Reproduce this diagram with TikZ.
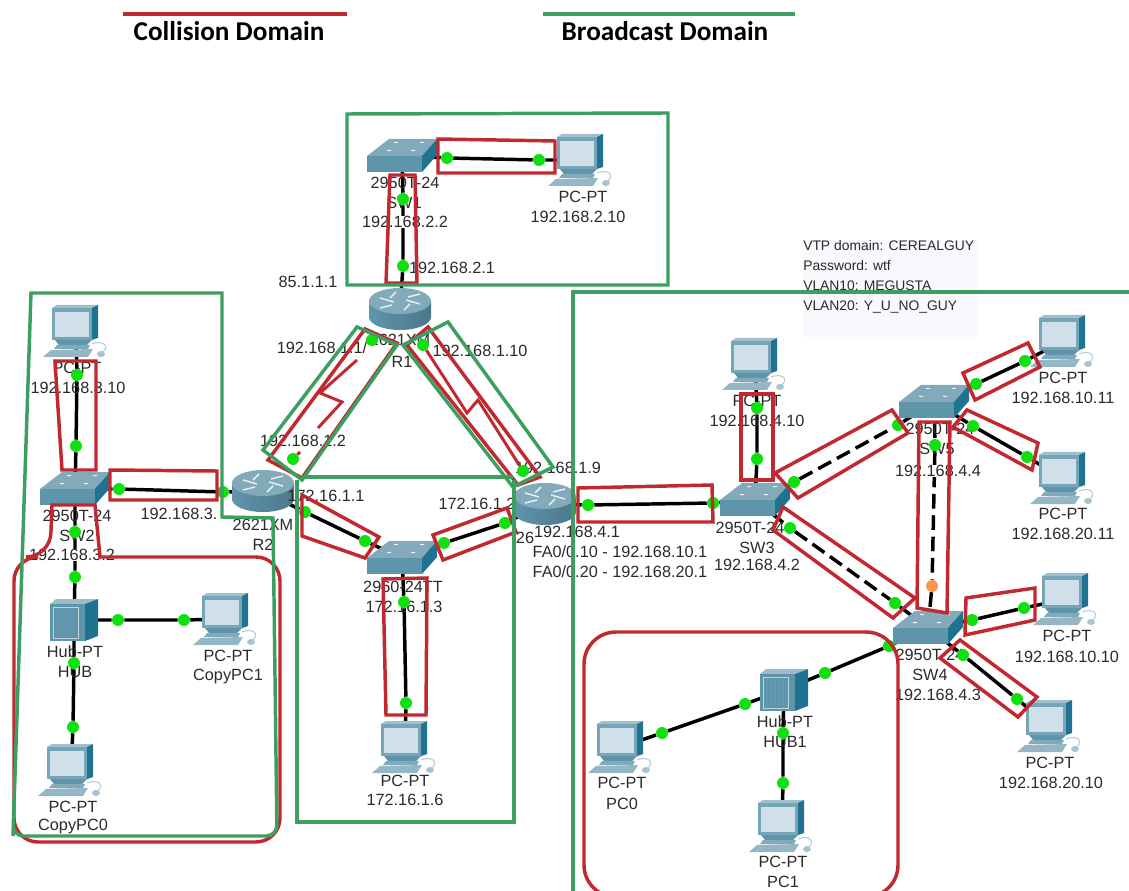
\documentclass[tikz,border=0pt]{standalone}
\usepackage{fontspec}
\setmainfont{Liberation Sans}
\newfontfamily\titlefont{Carlito}
\pgfdeclarelayer{wires}
\pgfdeclarelayer{marks}
\pgfsetlayers{wires,main,marks}
\definecolor{rbox}{HTML}{C1282F}
\definecolor{gbox}{HTML}{3C9F5F}
\definecolor{port}{HTML}{10E010}
\definecolor{tealF}{HTML}{5F95AB}
\definecolor{tealS}{HTML}{1F7390}
\definecolor{tealT}{HTML}{82AABB}
\definecolor{screen}{HTML}{CFE0EA}
\definecolor{txt}{HTML}{2A2A2A}
\definecolor{notebg}{HTML}{F8F9FC}
\tikzset{
  lbl/.style={font=\fontsize{12.2}{14}\selectfont,text=txt,inner sep=0pt},
  lblw/.style={lbl,fill=white},
  vtp/.style={font=\fontsize{10.4}{12}\selectfont,text=txt,inner sep=0pt,anchor=west},
  wire/.style={draw=black,line width=2.6pt},
  dwire/.style={wire,dash pattern=on 11pt off 5pt},
  serial/.style={draw=rbox,line width=2.2pt},
  portdot/.style={circle,fill=port,inner sep=0pt,minimum size=9pt},
  orangedot/.style={portdot,fill=orange!80!red!70!white},
  redbox/.style={draw=rbox,line width=2.6pt,line join=miter},
  greenbox/.style={draw=gbox,line width=2.6pt,line join=miter},
  titlelbl/.style={font=\titlefont\bfseries\fontsize{20.4}{24}\selectfont,text=black,inner sep=0pt}
}
\newcommand{\pcdev}[3]{%
  \coordinate (#1) at (#2,#3);
  \begin{scope}[shift={(#2,#3)}]
    \fill[tealT!75!white] (-24,-23)--(-19,-26)--(22,-26)--(16,-23)--cycle;
    \fill[tealS] (16,-23)--(22,-26)--(22,7)--(16,9)--cycle;
    \fill[tealF!85!white] (-24,-23) rectangle (16,9);
    \fill[screen] (-21,-19) rectangle (13,6);
    \fill[tealF] (-21,9)--(16,9)--(11,14)--(-17,14)--cycle;
    \fill[tealT] (-19,14)--(14,14)--(12,18)--(-22,18)--cycle;
    \fill[tealT!85!white] (-25,19)--(17,18)--(12,26)--(-33,26)--cycle;
    \draw[tealT!60!white,line width=.8pt] (16,13) .. controls (26,9) and (34,14) .. (27,21);
    \fill[tealT!70!white] (25,23) ellipse (4 and 3);
  \end{scope}}
\newcommand{\swdev}[3]{%
  \coordinate (#1) at (#2,#3);
  \begin{scope}[shift={(#2,#3)}]
    \fill[tealT] (-35,0)--(-13,-17)--(35,-17)--(20,0)--cycle;
    \fill[tealF] (-35,0) rectangle (20,16);
    \fill[tealS] (20,0)--(35,-17)--(35,-1)--(20,16)--cycle;
    \fill[white!85!tealT] (-8,-14) rectangle (-4,-13) (18,-14) rectangle (22,-13) (-15,-6) rectangle (-11,-5) (9,-6) rectangle (13,-5);
  \end{scope}}
\newcommand{\rtdev}[3]{%
  \coordinate (#1) at (#2,#3);
  \begin{scope}[shift={(#2,#3)}]
    \path[left color=tealF,middle color=white!80!tealT,right color=tealF!80!black]
      (-31,-8) -- (-31,8) arc[start angle=180,end angle=0,x radius=31,y radius=13] -- (31,-8) -- cycle;
    \fill[tealT] (0,-8) ellipse (31 and 13);
    \draw[white!80!tealT,line width=1.1pt] (-20,-11) -- (-6,-7) (-4,-17) -- (-10,-11) (20,-5) -- (6,-9) (4,1) -- (10,-5) (-20,-1) -- (-8,-4) (20,-15) -- (8,-12);
  \end{scope}}
\newcommand{\hubdev}[3]{%
  \coordinate (#1) at (#2,#3);
  \begin{scope}[shift={(#2,#3)}]
    \fill[tealT!80!white] (-24,-16)--(-18,-21)--(24,-21)--(11,-16)--cycle;
    \fill[tealS] (11,-16)--(24,-21)--(24,16)--(11,21)--cycle;
    \fill[tealF] (-24,-16) rectangle (11,21);
    \draw[tealT!50!white,line width=.7pt] (-21,-13) rectangle (4,18);
    \foreach \k in {-17,-13,-9,-5,-1} \draw[tealS!70!white,line width=.7pt] (\k,-11) -- (\k,16);
  \end{scope}}
\newcommand{\pd}[3]{\node[portdot] (#1) at (#2,#3) {};}
\newcommand{\lb}[4]{\node[lbl] (#1) at (#2,#3) {#4};}
\newcommand{\lbw}[4]{\node[lblw] (#1) at (#2,#3) {#4};}
\begin{document}
\begin{tikzpicture}[x=0.75pt,y=-0.75pt]
\useasboundingbox (0,0) rectangle (1129,891);
% devices
\swdev{swa}{402}{156}
\pcdev{pcb}{581}{160}
\rtdev{ra}{400}{309}
\rtdev{rb}{263}{491}
\rtdev{rc}{545}{504}
\pcdev{pca}{76}{331}
\swdev{swb}{75}{489}
\hubdev{hub}{74}{620}
\pcdev{cpa}{226}{619}
\pcdev{cpb}{71}{770}
\swdev{swt}{402}{558}
\pcdev{pcc}{405}{747}
\swdev{swc}{755}{500}
\pcdev{pcd}{755}{364}
\swdev{swe}{934}{402}
\swdev{swd}{928}{628}
\pcdev{pce}{1063}{341}
\pcdev{pcf}{1063}{478}
\pcdev{pcg}{1066}{599}
\pcdev{pch}{1050}{726}
\hubdev{hua}{784}{690}
\pcdev{pci}{621}{747}
\pcdev{pcj}{782}{826}
% VTP note
\begin{pgfonlayer}{wires}
\fill[notebg] (803,240) rectangle (977,337);
\end{pgfonlayer}
\node[vtp] (vtpa) at (803,246) {VTP domain: CEREALGUY};
\node[vtp] (vtpb) at (803,266) {Password: wtf};
\node[vtp] (vtpc) at (803,286) {VLAN10: MEGUSTA};
\node[vtp] (vtpd) at (803,307) {VLAN20: Y\_U\_NO\_GUY};
% labels
\lb{la}{405}{183}{2950T-24}
\lb{lb}{404}{203}{SW1}
\lbw{lc}{405}{222}{192.168.2.2}
\lb{ld}{452}{268}{192.168.2.1}
\lb{le}{583}{197}{PC-PT}
\lb{lf}{578}{217}{192.168.2.10}
\lb{lg}{308}{282}{85.1.1.1}
\lb{lh}{322}{348}{192.168.1.1/}
\lb{li}{400}{340}{2621XM}
\lb{lj}{402}{362}{R1}
\lb{lk}{480}{351}{192.168.1.10}
\lb{ll}{303}{441}{192.168.1.2}
\lb{lm}{558}{468}{192.168.1.9}
\lb{ln}{77}{368}{PC-PT}
\lb{lo}{78}{388}{192.168.3.10}
\lb{lp}{77}{516}{2950T-24}
\lb{lq}{77}{536}{SW2}
\lbw{lr}{72}{555}{192.168.3.2}
\lb{ls}{179}{514}{192.168.3.}
\lb{lt}{263}{525}{2621XM}
\lb{lu}{263}{545}{R2}
\lb{lv}{75}{652}{Hub-PT}
\lb{lw}{75}{672}{HUB}
\lb{lx}{228}{656}{PC-PT}
\lb{ly}{228}{677}{CopyPC1}
\lb{lz}{73}{807}{PC-PT}
\lb{maa}{73}{827}{CopyPC0}
\lb{mab}{326}{496}{172.16.1.1}
\lb{mac}{477}{504}{172.16.1.2}
\lb{mad}{403}{587}{2960-24TT}
\lb{mae}{404}{607}{172.16.1.3}
\lb{maf}{405}{781}{PC-PT}
\lb{mag}{405}{800}{172.16.1.6}
\lb{mah}{525}{538}{26}
\lbw{mai}{577}{532}{192.168.4.1}
\lb{maj}{620}{552}{FA0/0.10 - 192.168.10.1}
\lb{mak}{620}{572}{FA0/0.20 - 192.168.20.1}
\lb{mal}{750}{528}{2950T-24}
\lb{mam}{757}{548}{SW3}
\lb{man}{757}{565}{192.168.4.2}
\lb{mao}{757}{401}{PC-PT}
\lb{map}{757}{421}{192.168.4.10}
\lb{maq}{940}{429}{2950T-24}
\lb{mar}{937}{449}{SW5}
\lbw{mas}{938}{471}{192.168.4.4}
\lb{mat}{1063}{378}{PC-PT}
\lb{mau}{1063}{398}{192.168.10.11}
\lb{mav}{1063}{514}{PC-PT}
\lb{maw}{1063}{534}{192.168.20.11}
\lb{max}{930}{655}{2950T-24}
\lb{may}{930}{675}{SW4}
\lb{maz}{938}{695}{192.168.4.3}
\lb{nab}{1067}{636}{PC-PT}
\lb{nac}{1067}{657}{192.168.10.10}
\lb{nad}{1050}{763}{PC-PT}
\lb{nae}{1051}{783}{192.168.20.10}
\lb{naf}{785}{722}{Hub-PT}
\lb{nag}{785}{742}{HUB1}
\lb{nah}{622}{783}{PC-PT}
\lb{nai}{622}{804}{PC0}
\lb{naj}{783}{862}{PC-PT}
\lb{nak}{783}{882}{PC1}
% ports
\pd{a1}{447}{158}\pd{a2}{539}{160}
\pd{b1}{403}{199}\pd{b2}{403}{266}
\pd{c1}{372}{340}\pd{c2}{293}{459}
\pd{e1}{423}{345}\pd{e2}{523}{471}
\pd{f1}{77}{375}\pd{f2}{76}{446}
\pd{g1}{119}{489}\pd{g2}{223}{492}
\pd{h1}{75}{532}\pd{h2}{75}{577}
\pd{i1}{118}{620}\pd{i2}{184}{620}
\pd{j1}{74}{663}\pd{j2}{73}{727}
\pd{k1}{305}{512}\pd{k2}{365}{541}
\pd{l1}{444}{543}\pd{l2}{505}{523}
\pd{m1}{404}{602}\pd{m2}{406}{703}
\pd{n1}{588}{505}\pd{n2}{713}{503}
\pd{o1}{757}{408}\pd{o2}{757}{459}
\pd{p1}{794}{482}\pd{p2}{898}{425}
\pd{q1}{790}{528}\pd{q2}{895}{603}
\pd{r1}{935}{445}
\node[orangedot] (r2) at (932,586) {};
\pd{s1}{976}{384}\pd{s2}{1025}{361}
\pd{t1}{973}{426}\pd{t2}{1027}{457}
\pd{u1}{972}{620}\pd{u2}{1024}{608}
\pd{v1}{963}{655}\pd{v2}{1017}{699}
\pd{w1}{889}{646}\pd{w2}{825}{673}
\pd{x1}{745}{704}\pd{x2}{662}{733}
\pd{y1}{783}{733}\pd{y2}{783}{783}
% links
\begin{pgfonlayer}{wires}
\draw[wire] (swa) -- (a1) -- (a2) -- (pcb);
\draw[wire] (swa) -- (b1) -- (b2) -- (ra);
\draw[wire] (pca) -- (f1) -- (f2) -- (swb);
\draw[wire] (swb) -- (g1) -- (g2) -- (rb);
\draw[wire] (swb) -- (h1) -- (h2) -- (hub);
\draw[wire] (hub) -- (i1) -- (i2) -- (cpa);
\draw[wire] (hub) -- (j1) -- (j2) -- (cpb);
\draw[wire] (rb) -- (k1) -- (k2) -- (swt);
\draw[wire] (swt) -- (l1) -- (l2) -- (rc);
\draw[wire] (swt) -- (m1) -- (m2) -- (pcc);
\draw[wire] (rc) -- (n1) -- (n2) -- (swc);
\draw[wire] (swc) -- (o2) -- (o1) -- (pcd);
\draw[dwire] (swc) -- (p1) -- (p2) -- (swe);
\draw[dwire] (swc) -- (q1) -- (q2) -- (swd);
\draw[dwire] (swe) -- (r1) -- (r2) -- (swd);
\draw[wire] (swe) -- (s1) -- (s2) -- (pce);
\draw[wire] (swe) -- (t1) -- (t2) -- (pcf);
\draw[wire] (swd) -- (u1) -- (u2) -- (pcg);
\draw[wire] (swd) -- (v1) -- (v2) -- (pch);
\draw[wire] (swd) -- (w1) -- (w2) -- (hua);
\draw[wire] (hua) -- (x1) -- (x2) -- (pci);
\draw[wire] (hua) -- (y1) -- (y2) -- (pcj);
\end{pgfonlayer}
% domain marks
\begin{pgfonlayer}{marks}
\draw[serial] (357,360) -- (320,393) -- (342,402) -- (318,428);
\draw[serial] (c2) -- (300,452);
\draw[serial] (e1) -- (467,413) -- (478,400) -- (e2);
% collision
\draw[redbox] (438,139) -- (555,141) -- (555,173) -- (438,173) -- cycle;
\draw[redbox] (390,175) -- (415,175) -- (417,283) -- (386,283) -- cycle;
\draw[redbox] (365,329) -- (397,343) -- (302,478) -- (268,460) -- cycle;
\draw[redbox] (407,345) -- (428,327) -- (540,477) -- (518,485) -- cycle;
\draw[redbox] (55,361) -- (96,361) -- (96,470) -- (62,470) -- cycle;
\draw[redbox] (110,470) -- (217,471) -- (217,500) -- (110,500) -- cycle;
\draw[redbox] (100,557) [rounded corners=18] -- (280,557) -- (280,842) -- (14,842) -- (14,557) -- (50,557) [sharp corners] -- (52,505) -- (95,505) -- cycle;
\draw[redbox] (302,495) -- (379,537) -- (365,558) -- (302,536) -- cycle;
\draw[redbox] (433,535) -- (507,508) -- (516,532) -- (443,560) -- cycle;
\draw[redbox] (383,579) -- (427,578) -- (426,715) -- (386,715) -- cycle;
\draw[redbox] (578,488) -- (712,485) -- (713,522) -- (578,522) -- cycle;
\draw[redbox] (741,394) -- (773,394) -- (773,480) -- (741,480) -- cycle;
\draw[redbox] (775,473) -- (892,410) -- (908,433) -- (798,498) -- cycle;
\draw[redbox] (783,507) -- (915,598) -- (893,618) -- (773,530) -- cycle;
\draw[redbox] (919,422) -- (950,422) -- (947,613) -- (917,608) -- cycle;
\draw[redbox] (963,373) -- (1028,343) -- (1040,367) -- (975,400) -- cycle;
\draw[redbox] (953,427) -- (967,410) -- (1038,443) -- (1032,470) -- cycle;
\draw[redbox] (966,598) -- (1035,588) -- (1035,620) -- (965,635) -- cycle;
\draw[redbox] (960,640) -- (1037,697) -- (1018,717) -- (940,658) -- cycle;
\draw[redbox,rounded corners=24] (584,897) -- (584,632) -- (898,632) -- (898,897) -- cycle;
% broadcast
\draw[greenbox] (347,114) -- (668,113) -- (668,285) -- (347,285) -- cycle;
\draw[greenbox] (13,836) -- (31,293) -- (222,293) -- (222,517) -- (273,518) [rounded corners=8] -- (277,836) -- (13,836) -- (14,800);
\draw[greenbox] (263,450) -- (357,327) -- (397,345) -- (302,480) -- cycle;
\draw[greenbox] (403,345) -- (448,322) -- (553,467) -- (513,487) -- cycle;
\draw[greenbox] (302,477) -- (513,477);
\draw[greenbox] (297,480) -- (297,822) -- (514,822) -- (514,480);
\draw[greenbox] (1129,292) -- (573,292) -- (573,891);
% legend
\draw[rbox,line width=2.7pt] (123,14) -- (347,14);
\draw[gbox,line width=2.7pt] (543,14) -- (795,14);
\end{pgfonlayer}
\node[titlelbl] (tta) at (229,31) {Collision Domain};
\node[titlelbl] (ttb) at (665,31) {Broadcast Domain};
\end{tikzpicture}
\end{document}
